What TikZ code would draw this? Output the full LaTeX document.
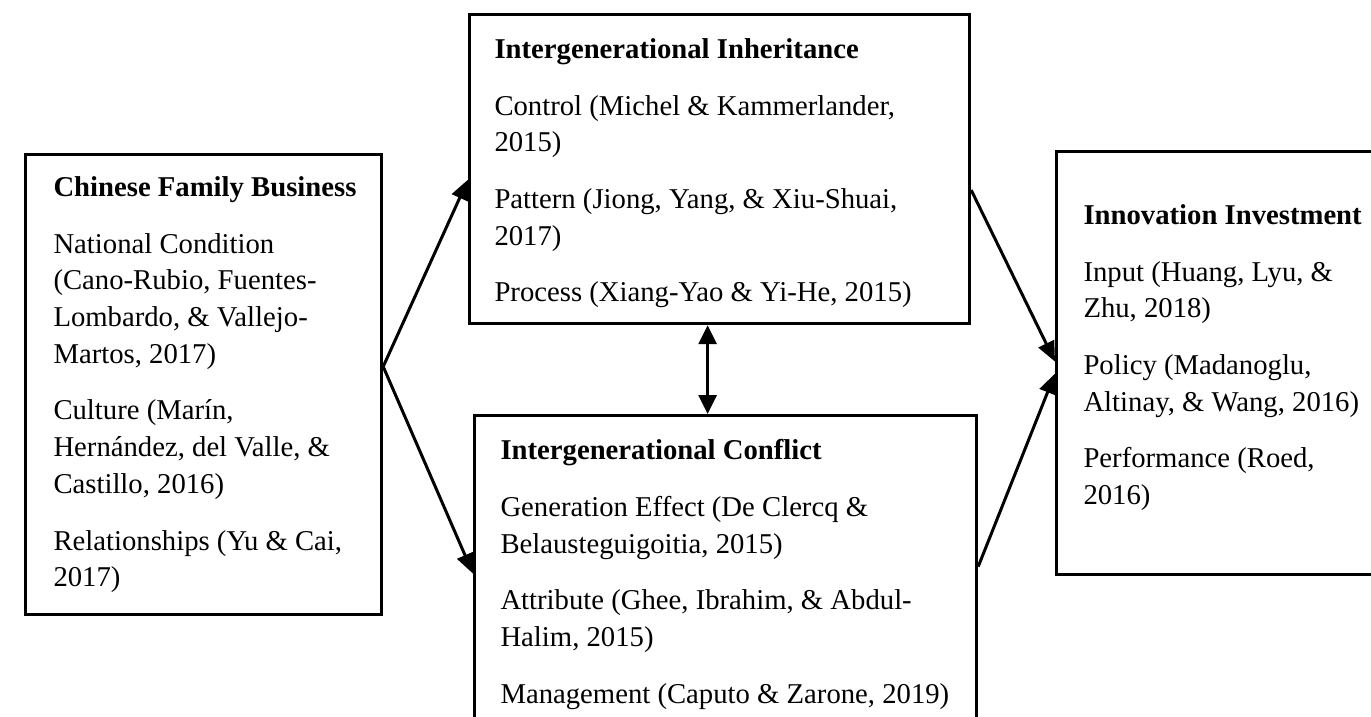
\documentclass[tikz,border=0pt]{standalone}
\usepackage{fontspec}
\setmainfont{Liberation Serif}
\usetikzlibrary{arrows.meta}

\begin{document}
\begin{tikzpicture}[x=1pt, y=-1pt, line width=3pt,
    box/.style={draw=black, line width=3.2pt, shape=rectangle, inner sep=0pt, anchor=north west},
    txt/.style={anchor=north west, inner sep=0pt, align=left, font=\fontsize{28.7pt}{36.7pt}\selectfont},
    arr/.style={-{Triangle[length=20pt,width=17pt]}, line width=3pt},
    dblarr/.style={{Triangle[length=19pt,width=18pt]}-{Triangle[length=19pt,width=18pt]}, line width=3pt}
]
\useasboundingbox (0,0) rectangle (1371,716);

% --- Kasten links ---
\node[box, minimum width=356pt, minimum height=460pt] (fam) at (24,153) {};
\node[txt] (famtxt) at ([shift={(28,22)}]fam.north west) {\textbf{Chinese Family Business}\\[20pt]
National Condition\\(Cano-Rubio, Fuentes-\\Lombardo, \& Vallejo-\\Martos, 2017)\\[20pt]
Culture (Marín,\\Hernández, del Valle, \&\\Castillo, 2016)\\[20pt]
Relationships (Yu \& Cai,\\2017)};

% --- Kasten oben ---
\node[box, minimum width=500pt, minimum height=309pt] (inh) at (468,13) {};
\node[txt] (inhtxt) at ([shift={(25,24)}]inh.north west) {\textbf{Intergenerational Inheritance}\\[20pt]
Control (Michel \& Kammerlander,\\2015)\\[20pt]
Pattern (Jiong, Yang, \& Xiu-Shuai,\\2017)\\[20pt]
Process (Xiang-Yao \& Yi-He, 2015)};

% --- Kasten unten ---
\node[box, minimum width=502pt, minimum height=316pt] (con) at (473,414) {};
\node[txt] (contxt) at ([shift={(26,24)}]con.north west) {\textbf{Intergenerational Conflict}\\[20pt]
Generation Effect (De Clercq \&\\Belausteguigoitia, 2015)\\[20pt]
Attribute (Ghee, Ibrahim, \& Abdul-\\Halim, 2015)\\[20pt]
Management (Caputo \& Zarone, 2019)};

% --- Kasten rechts ---
\node[box, minimum width=400pt, minimum height=423pt] (inv) at (1055,150) {};
\node[txt] (invtxt) at ([shift={(27,53)}]inv.north west) {\textbf{Innovation Investment}\\[20pt]
Input (Huang, Lyu, \&\\Zhu, 2018)\\[20pt]
Policy (Madanoglu,\\Altinay, \& Wang, 2016)\\[20pt]
Performance (Roed,\\2016)};

% --- Pfeile ---
\draw[arr] ([yshift=18pt]fam.east) -- ([yshift=-10.5pt]inh.west);
\draw[arr] ([yshift=18pt]fam.east) -- (con.west);
\draw[arr] ([yshift=-21pt]inh.east) -- ([yshift=1.5pt]inv.west);
\draw[arr] ([yshift=7pt]con.east) -- ([yshift=-10.5pt]inv.west);
\draw[dblarr] ([xshift=-12pt]inh.south) -- ([xshift=-18pt]con.north);

\end{tikzpicture}
\end{document}
